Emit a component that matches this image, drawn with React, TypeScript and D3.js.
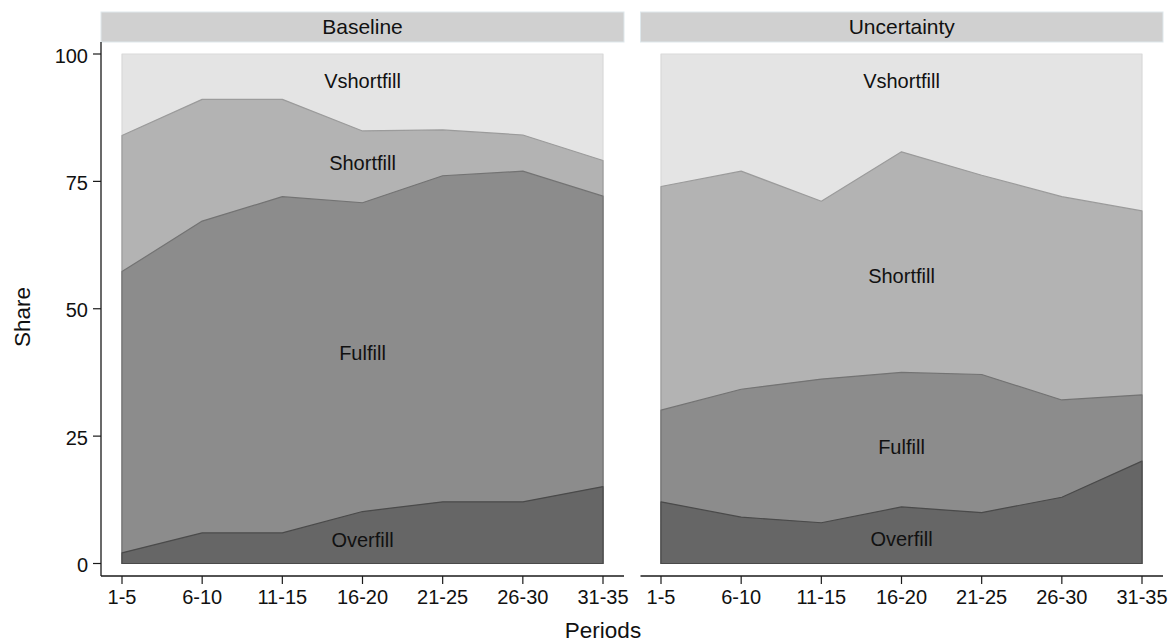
import React from "react";
import * as d3 from "d3";

const periods = ["1-5", "6-10", "11-15", "16-20", "21-25", "26-30", "31-35"];
const seriesNames = ["Overfill", "Fulfill", "Shortfill", "Vshortfill"];
const panelTitles = ["Baseline", "Uncertainty"];

// shares (percent) per period, bottom to top
const baselineOverfill = [2.1, 6.0, 6.0, 10.2, 12.1, 12.1, 15.1];
const baselineFulfill = [55.2, 61.2, 66.0, 60.6, 64.0, 64.9, 57.0];
const baselineShortfill = [26.7, 23.9, 19.1, 14.1, 9.0, 7.1, 7.0];
const baselineVshortfill = [16.0, 8.9, 8.9, 15.1, 14.9, 15.9, 20.9];

const uncertaintyOverfill = [12.1, 9.1, 8.0, 11.1, 10.0, 13.0, 20.1];
const uncertaintyFulfill = [18.0, 25.1, 28.2, 26.4, 27.1, 19.1, 13.0];
const uncertaintyShortfill = [43.9, 42.8, 34.9, 43.3, 39.1, 39.9, 36.1];
const uncertaintyVshortfill = [26.0, 23.0, 28.9, 19.2, 23.8, 28.0, 30.8];

// label anchor values (y value of text baseline)
const baselineLabelY = [3.3, 40.0, 77.2, 93.3];
const uncertaintyLabelY = [3.4, 21.5, 55.0, 93.3];

const yTicks = [0, 25, 50, 75, 100];

const fills = ["#666666", "#8c8c8c", "#b3b3b3", "#e4e4e4"];
const strokes = ["#4a4a4a", "#737373", "#9b9b9b", "#d9d9d9"];

const FONT = "'Liberation Sans', Arial, Helvetica, sans-serif";

const panels = [
  {
    title: panelTitles[0],
    series: [baselineOverfill, baselineFulfill, baselineShortfill, baselineVshortfill],
    labelY: baselineLabelY,
    axisLeft: 101,
    axisRight: 624,
    dataLeft: 122,
    dataRight: 603,
    showY: true,
  },
  {
    title: panelTitles[1],
    series: [uncertaintyOverfill, uncertaintyFulfill, uncertaintyShortfill, uncertaintyVshortfill],
    labelY: uncertaintyLabelY,
    axisLeft: 640.5,
    axisRight: 1163,
    dataLeft: 661,
    dataRight: 1142,
    showY: false,
  },
];

const stripTop = 12;
const stripBottom = 42;
const axisY = 576;

function Panel({ p }: { p: (typeof panels)[number] }) {
  const x = d3.scalePoint<string>().domain(periods).range([p.dataLeft, p.dataRight]);
  const y = d3.scaleLinear().domain([0, 100]).range([563.5, 54]);

  const table = periods.map((per, i) => {
    const row: Record<string, number | string> = { period: per };
    seriesNames.forEach((s, k) => (row[s] = p.series[k][i]));
    return row;
  });
  const stacked = d3.stack<Record<string, number | string>>().keys(seriesNames)(table as any);

  const area = d3
    .area<any>()
    .x((d) => x(d.data.period as string)!)
    .y0(() => y(0))
    .y1((d) => y(d[1]));

  return (
    <g>
      <rect
        x={p.axisLeft}
        y={stripTop}
        width={p.axisRight - p.axisLeft}
        height={stripBottom - stripTop}
        fill="#d0d0d0"
        stroke="#dfe8ec"
        strokeWidth={1}
      />
      <text
        x={(p.axisLeft + p.axisRight) / 2}
        y={33.5}
        textAnchor="middle"
        fontSize={21}
        fontFamily={FONT}
        fill="#111"
      >
        {p.title}
      </text>
      {[...stacked].reverse().map((layer) => {
        const k = seriesNames.indexOf(layer.key);
        return (
          <path
            key={layer.key}
            d={area(layer as any) || ""}
            fill={fills[k]}
            stroke={strokes[k]}
            strokeWidth={1.2}
            strokeLinejoin="round"
          />
        );
      })}
      {seriesNames.map((s, k) => (
        <text
          key={s}
          x={x("16-20")!}
          y={y(p.labelY[k])}
          textAnchor="middle"
          fontSize={20}
          fontFamily={FONT}
          fill="#111"
        >
          {s}
        </text>
      ))}
      <line x1={p.axisLeft} x2={p.axisRight} y1={axisY} y2={axisY} stroke="#1a1a1a" strokeWidth={1.3} />
      {periods.map((per) => (
        <g key={per}>
          <line x1={x(per)!} x2={x(per)!} y1={axisY} y2={axisY + 8} stroke="#1a1a1a" strokeWidth={1.2} />
          <text
            x={x(per)!}
            y={603.5}
            textAnchor="middle"
            fontSize={20}
            fontFamily={FONT}
            fill="#111"
          >
            {per}
          </text>
        </g>
      ))}
      {p.showY && (
        <g>
          <line x1={p.axisLeft} x2={p.axisLeft} y1={stripBottom} y2={axisY} stroke="#1a1a1a" strokeWidth={1.3} />
          {yTicks.map((t) => (
            <g key={t}>
              <line x1={p.axisLeft - 8} x2={p.axisLeft} y1={y(t)} y2={y(t)} stroke="#1a1a1a" strokeWidth={1.2} />
              <text
                x={88}
                y={y(t) + 8.5}
                textAnchor="end"
                fontSize={20}
                fontFamily={FONT}
                fill="#111"
              >
                {t}
              </text>
            </g>
          ))}
        </g>
      )}
    </g>
  );
}

export default function App() {
  return (
    <svg
      width={1174}
      height={642}
      style={{ position: "absolute", left: 0, top: 0, background: "#ffffff" }}
    >
      <rect x={0} y={0} width={1174} height={642} fill="#ffffff" />
      {panels.map((p) => (
        <Panel key={p.title} p={p} />
      ))}
      <text
        x={603}
        y={638}
        textAnchor="middle"
        fontSize={22.5}
        fontFamily={FONT}
        fill="#111"
      >
        Periods
      </text>
      <text
        transform="translate(29.5,317) rotate(-90)"
        textAnchor="middle"
        fontSize={22.5}
        fontFamily={FONT}
        fill="#111"
      >
        Share
      </text>
    </svg>
  );
}
